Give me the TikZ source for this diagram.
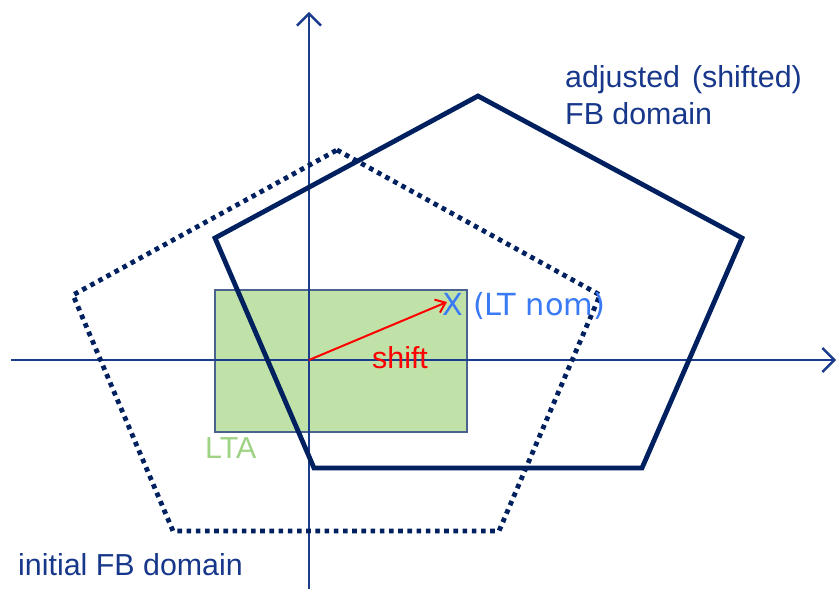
\documentclass[tikz,border=0pt]{standalone}
\usepackage{fontspec}
\setmainfont{Liberation Sans}
\newfontfamily\ltfont{DejaVu Sans}
\usetikzlibrary{arrows.meta}
\definecolor{fbnavy}{HTML}{002060}
\definecolor{axisblue}{HTML}{1A3C8C}
\definecolor{textblue}{HTML}{17378A}
\definecolor{ltblue}{HTML}{3A7BF5}
\definecolor{ltagreen}{HTML}{C0E2A8}
\definecolor{ltaedge}{HTML}{4A628F}
\definecolor{ltatext}{HTML}{9FD384}

\begin{document}
\begin{tikzpicture}[x=10bp,y=10bp,
  fb domain/.style={draw=fbnavy, line width=4.8bp},
  fb initial/.style={fb domain, dash pattern=on 4.6bp off 4.6bp},
  axis line/.style={draw=axisblue, line width=2.4bp,
    -{Straight Barb[length=12bp,width=24bp]}},
  label text/.style={inner sep=0pt, anchor=base west,
    font=\fontsize{30.5}{36}\selectfont},
  ]
  \useasboundingbox (-30.9,-22.9) rectangle (52.9,36.0);
  \coordinate (O) at (0,0);
  \coordinate (xstart) at (-29.8,0);
  \coordinate (xend) at (52.7,0);
  \coordinate (ystart) at (0,-22.9);
  \coordinate (yend) at (0,34.8);
  \filldraw[fill=ltagreen, draw=ltaedge, line width=1.2bp] (-9.4,7.0) rectangle (15.8,-7.2);
  \draw[axis line] (xstart) -- (xend);
  \draw[axis line] (ystart) -- (yend);
  \coordinate (A1) at (2.8,21.0);
  \coordinate (B1) at (29.1,6.5);
  \coordinate (C1) at (19.0,-17.1);
  \coordinate (D1) at (-13.6,-17.1);
  \coordinate (E1) at (-23.6,6.5);
  \draw[fb initial] (A1) -- (B1) -- (C1) -- (D1) -- (E1) -- cycle;
  \coordinate (A2) at (16.9,26.4);
  \coordinate (B2) at (43.3,12.2);
  \coordinate (C2) at (33.3,-10.8);
  \coordinate (D2) at (0.5,-10.8);
  \coordinate (E2) at (-9.4,12.2);
  \draw[fb domain] (A2) -- (B2) -- (C2) -- (D2) -- (E2) -- cycle;
  \coordinate (LT) at (13.8,5.8);
  \draw[red, line width=2bp, -{Straight Barb[length=9bp,width=14bp]}] (O) -- (LT);
  \node[label text, text=ltblue, font=\ltfont\fontsize{30.5}{36}\selectfont] (ltnom) at (13.3,4.5) {X\hspace{10bp}(LT nom)};
  \node[label text, text=red] (shift) at (6.3,-0.8) {shift};
  \node[label text, text=ltatext] (lta) at (-10.4,-9.8) {LTA};
  \node[label text, text=textblue] (adjusted) at (25.6,27.2) {adjusted\hspace{12bp}(shifted)};
  \node[label text, text=textblue] (newdomain) at (25.6,23.5) {FB domain};
  \node[label text, text=textblue] (initial) at (-29.1,-21.5) {initial FB domain};
\end{tikzpicture}
\end{document}
